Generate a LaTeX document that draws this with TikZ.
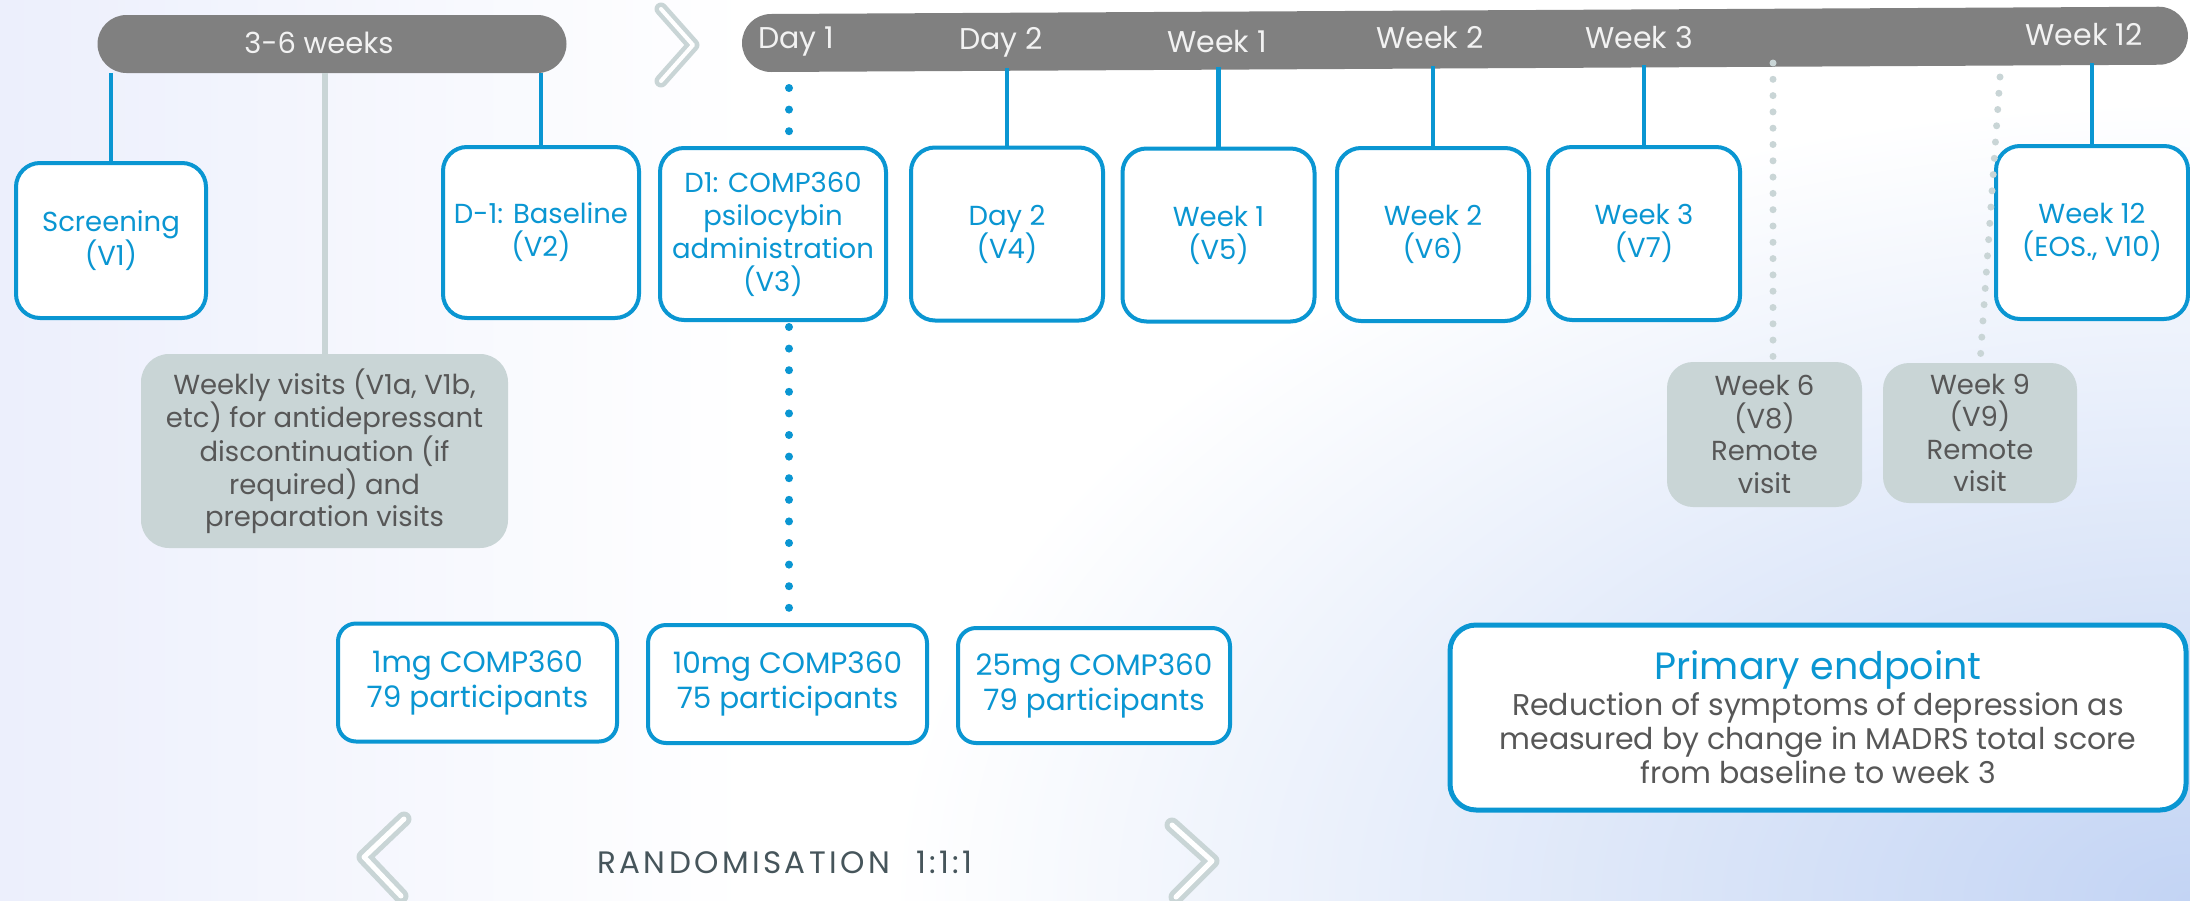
\documentclass[tikz,border=0pt]{standalone}
\usepackage{fontspec}
\setmainfont{Poppins}
\usetikzlibrary{calc}
\definecolor{myblue}{HTML}{0A96D2}
\definecolor{bargrey}{HTML}{808080}
\definecolor{lgrey}{HTML}{C9D5D6}
\definecolor{gtext}{HTML}{575757}
\definecolor{rtext}{HTML}{46555B}
\definecolor{bgleft}{HTML}{ECEFFC}
\definecolor{bgbr}{HTML}{C3D4F4}
\definecolor{bartext}{HTML}{F2F2F2}
\begin{document}
\begin{tikzpicture}[x=1pt,y=-1pt,
 visit/.style={draw=myblue, line width=4pt, rounded corners=24pt, fill=white, text=myblue, align=center, minimum width=192pt, minimum height=173pt, inner sep=0pt, font=\fontsize{27.5}{33}\selectfont},
 greybox/.style={fill=lgrey, rounded corners=28pt, text=gtext, align=center, inner sep=0pt, font=\fontsize{27.5}{32.4}\selectfont},
 dose/.style={draw=myblue, line width=4pt, rounded corners=18pt, fill=white, text=myblue, align=center, minimum width=279pt, minimum height=118pt, inner sep=0pt, font=\fontsize{29.5}{35}\selectfont},
 barlabel/.style={text=bartext, font=\fontsize{30}{32}\selectfont, inner sep=0pt},
 conn/.style={draw=myblue, line width=4.5pt},
 greyconn/.style={draw=lgrey, line width=6pt},
 bluedots/.style={draw=myblue, line width=8pt, line cap=round, dash pattern=on 0pt off 21.6pt},
 greydots/.style={draw=lgrey, line width=7pt, line cap=round, dash pattern=on 0pt off 16.3pt},
 chev/.style={draw=lgrey, line width=13pt, line cap=round, line join=round},
 chevin/.style={draw=white, line width=4pt, line cap=round, line join=round},
]
\useasboundingbox (0,0) rectangle (2190,900);
% background
\fill[white] (0,0) rectangle (2190,900);
\begin{scope}
\clip (0,0) rectangle (2190,900);
\shade[left color=bgleft, right color=white] (0,0) rectangle (750,900);
\shade[inner color=bgbr, outer color=white] (890,100) rectangle (3490,1700);
\end{scope}

% timeline bars
\node[fill=bargrey, rounded corners=29pt, minimum width=469pt, minimum height=58pt, inner sep=0pt] (bar1) at (332,44) {};
\node[barlabel, font=\fontsize{29}{32}\selectfont] (lbar1) at (319,43) {3-6 weeks};
\fill[bargrey, rounded corners=29pt, rotate around={0.3:(771,43)}] (742,14) rectangle (2188,72);
\node[barlabel] (lday1) at (796,42) {Day 1};
\node[barlabel] (lday2) at (1001,42) {Day 2};
\node[barlabel] (lwk1) at (1217,42) {Week 1};
\node[barlabel] (lwk2) at (1430,38) {Week 2};
\node[barlabel] (lwk3) at (1639,38) {Week 3};
\node[barlabel] (lwk12) at (2084,35) {Week 12};

% chevrons
\draw[chev] (661,9) -- (693,45) -- (661,81);
\draw[chevin] (661,9) -- (693,45) -- (661,81);
\draw[chev, line width=15pt] (404,819) -- (364,857) -- (401,896);
\draw[chevin, line width=5pt] (404,819) -- (364,857) -- (401,896);
\draw[chev, line width=15pt] (1172,825) -- (1212,861) -- (1176,897);
\draw[chevin, line width=5pt] (1172,825) -- (1212,861) -- (1176,897);

% visit boxes
\node[visit, minimum width=190pt, minimum height=155pt] (scr) at (111,240.5) {Screening\\(V1)};
\node[visit, minimum width=196pt, minimum height=171pt] (base) at (541,232.5) {D-1: Baseline\\(V2)};
\node[visit, minimum width=226pt, minimum height=172pt] (d1) at (773,234) {D1: COMP360\\psilocybin\\administration\\(V3)};
\node[visit] (day2) at (1007,234) {Day 2\\(V4)};
\node[visit] (wk1) at (1218.5,235) {Week 1\\(V5)};
\node[visit] (wk2) at (1433,234.5) {Week 2\\(V6)};
\node[visit] (wk3) at (1644,233.5) {Week 3\\(V7)};
\node[visit] (wk12) at (2092,232.5) {Week 12\\(EOS., V10)};

% grey boxes
\node[greybox, minimum width=367pt, minimum height=194pt] (weekly) at (324.5,451) {Weekly visits (V1a, V1b,\\etc) for antidepressant\\discontinuation (if\\required) and\\preparation visits};
\node[greybox, minimum width=195pt, minimum height=145pt, rounded corners=26pt] (wk6) at (1764.5,434.5) {Week 6\\(V8)\\Remote\\visit};
\node[greybox, minimum width=194pt, minimum height=140pt, rounded corners=26pt] (wk9) at (1980,433) {Week 9\\(V9)\\Remote\\visit};

% dose boxes
\node[dose] (m1) at (477.5,682.5) {1mg COMP360\\79 participants};
\node[dose] (m10) at (787.5,684) {10mg COMP360\\75 participants};
\node[dose, minimum width=272pt, minimum height=115pt] (m25) at (1094,685.5) {25mg COMP360\\79 participants};

% primary endpoint
\node[draw=myblue, line width=5pt, rounded corners=26pt, fill=white, minimum width=736pt, minimum height=185pt, align=center, text=gtext, font=\fontsize{30}{34}\selectfont, inner sep=0pt] (prim) at (1818,717.5) {{\color{myblue}\fontsize{38}{40}\selectfont Primary endpoint}\\[2pt]Reduction of symptoms of depression as\\measured by change in MADRS total score\\from baseline to week 3};

% randomisation
\node[text=rtext, font=\fontsize{31}{34}\selectfont\addfontfeature{LetterSpace=11}, inner sep=0pt] (rand) at (785,862) {RANDOMISATION\hspace{26pt}1:1:1};

% connectors from bar 1
\draw[conn] (bar1.south -| scr.north) -- (scr.north);
\draw[conn] (bar1.south -| base.north) -- (base.north);
\draw[greyconn] (bar1.south -| weekly.north) -- (weekly.north);

% connectors from bar 2
\coordinate (t2) at (1007,68);
\coordinate (t3) at (1218.5,67);
\coordinate (t4) at (1433,66);
\coordinate (t5) at (1644,65);
\coordinate (t6) at (2092,63);
\draw[conn] (t2) -- (day2.north);
\draw[conn] (t3) -- (wk1.north);
\draw[conn] (t4) -- (wk2.north);
\draw[conn] (t5) -- (wk3.north);
\draw[conn] (t6) -- (wk12.north);

% dotted connectors
\coordinate (dtop) at (789,88);
\draw[bluedots] (dtop) -- (d1.north -| dtop);
\draw[bluedots, shorten <=5pt] (d1.south -| dtop) -- (m10.north -| dtop);
\coordinate (g6) at (1773,63);
\draw[greydots] (g6) -- (wk6.north -| g6);
\coordinate (g9) at (2000,77);
\draw[greydots] (g9) -- (wk9.north);
\end{tikzpicture}
\end{document}
